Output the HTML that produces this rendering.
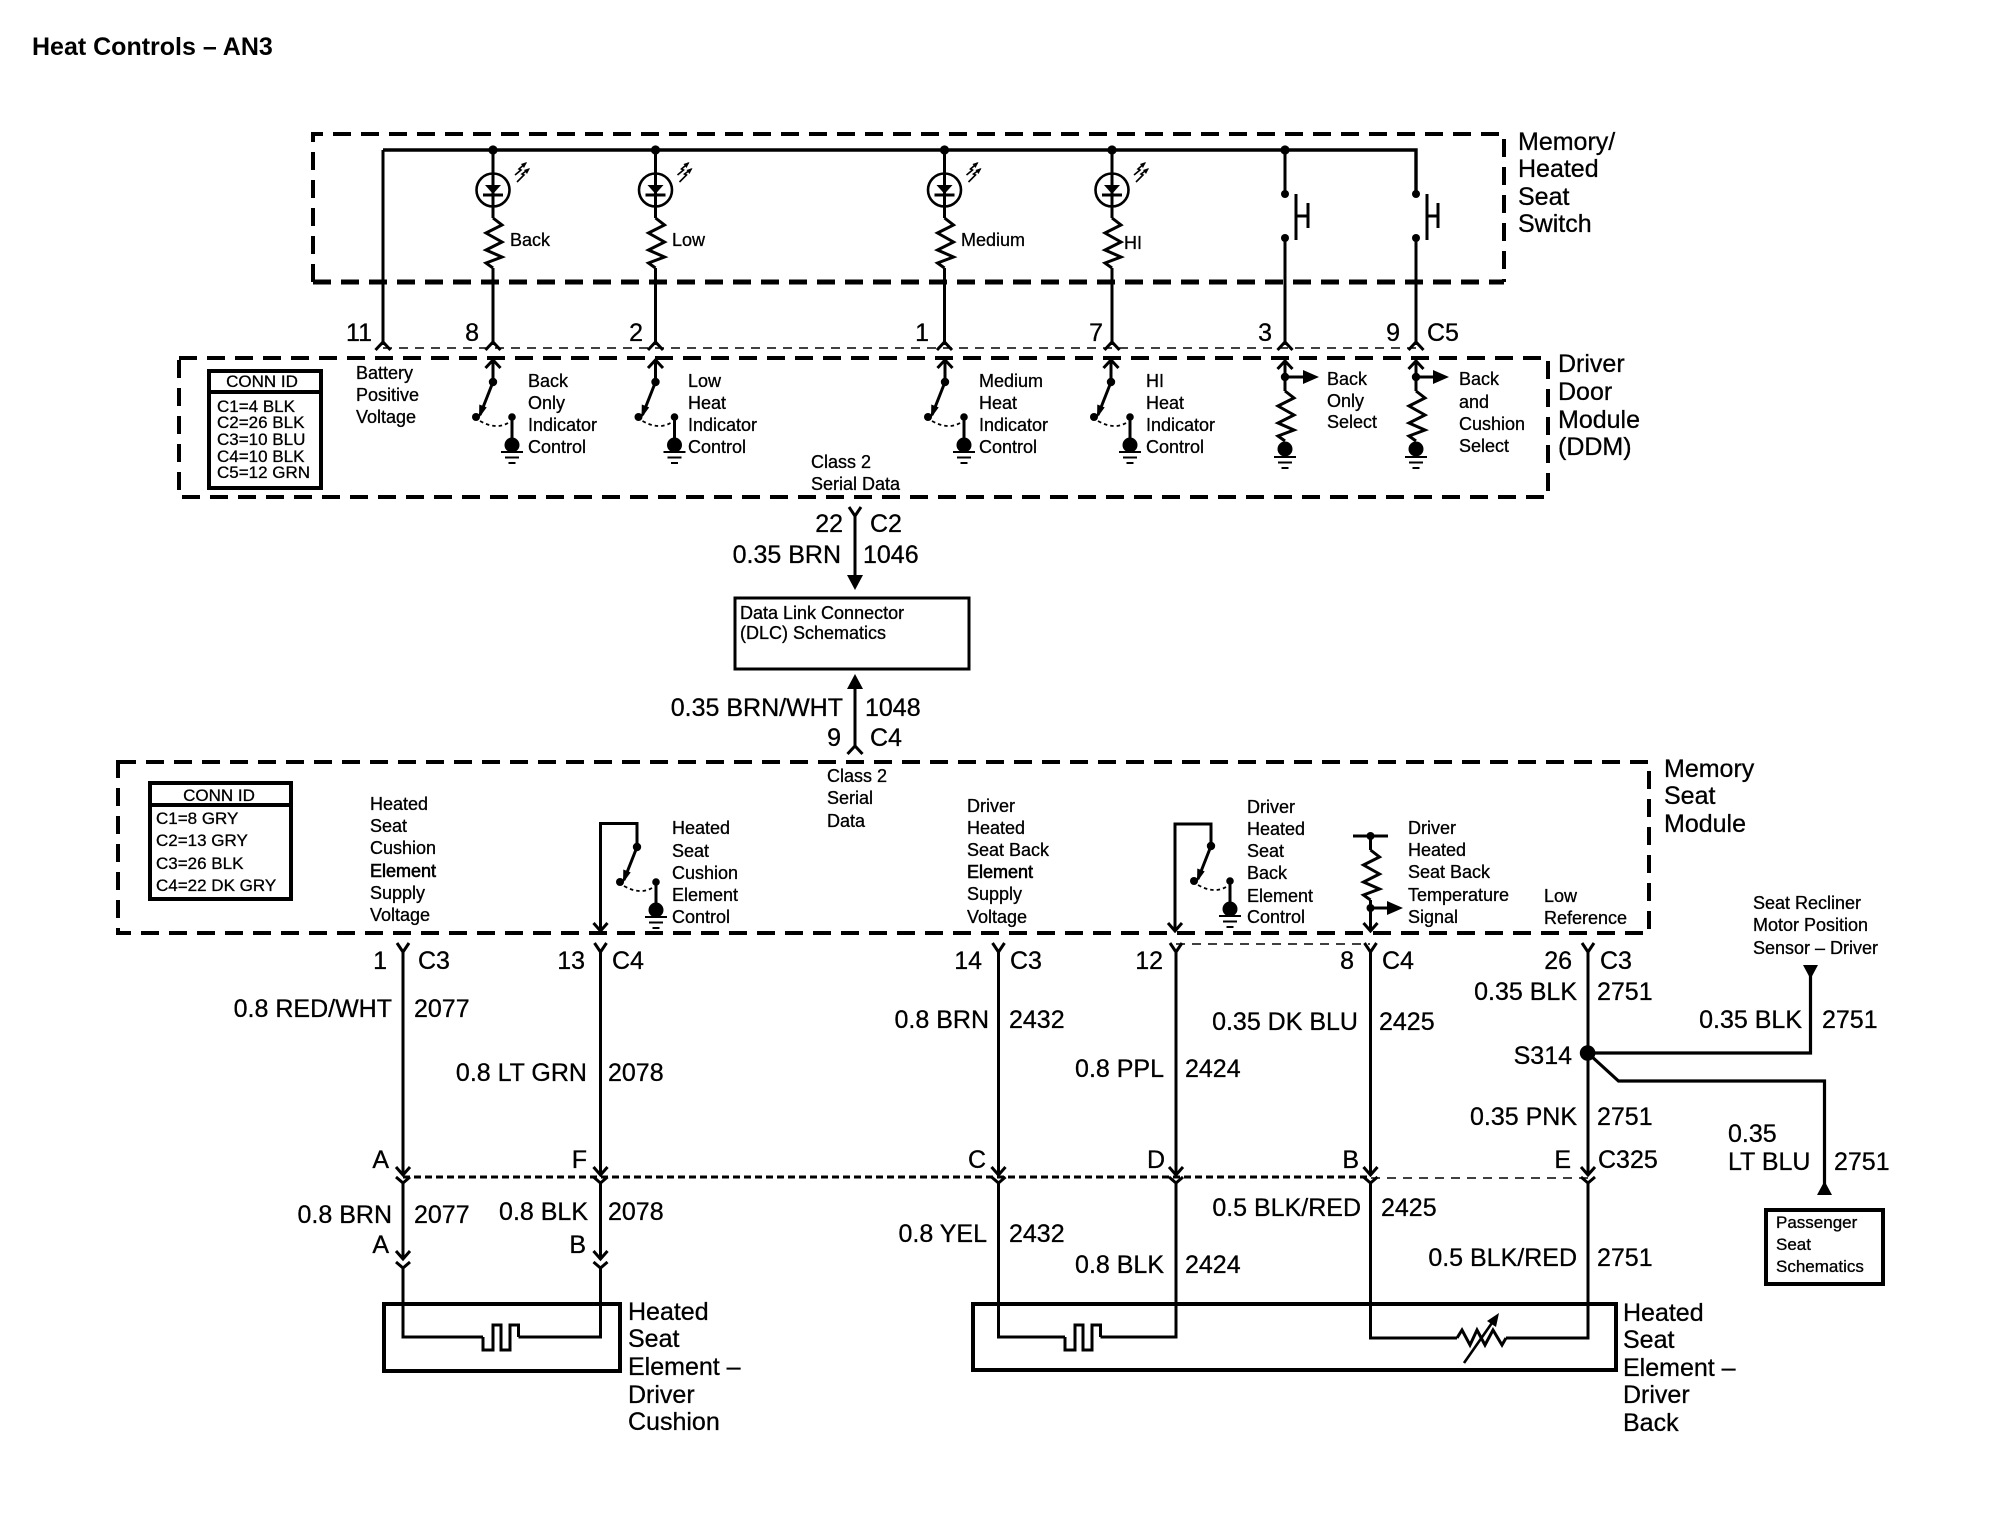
<!DOCTYPE html>
<html><head><meta charset="utf-8"><title>Heat Controls – AN3</title>
<style>
html,body{margin:0;padding:0;background:#fff}
svg{display:block}
text{font-family:"Liberation Sans",Arial,sans-serif;fill:#000;stroke:#000;stroke-width:.3}
text:not(.e){transform:translateX(-1px)}
.s{font-size:18px}.c{font-size:17px}.m{font-size:25px}.t{font-size:25px;font-weight:bold;stroke-width:0}
.e{text-anchor:end}.mid{text-anchor:middle}
.w{fill:none;stroke:#000;stroke-width:3}
.d{fill:none;stroke:#000;stroke-width:4;stroke-dasharray:18 10}
.n{fill:none;stroke:#000;stroke-width:1.6;stroke-dasharray:9 7}
.box{fill:none;stroke:#000;stroke-width:4}
</style></head><body>
<svg width="2010" height="1520" viewBox="0 0 2010 1520" xmlns="http://www.w3.org/2000/svg">
<defs>
<g id="res"><polyline class="w" points="0,0 9,7 -7,15 9,24 -7,32 9,39 -7,45 0,50"/></g>
<g id="gnd"><path d="M-11,0H11M-7,5.5H7M-3.5,11H3.5" stroke="#000" stroke-width="1.9" fill="none"/></g>
<g id="up"><polyline class="w" points="-7.5,8 0,0 7.5,8"/></g>
<g id="dn"><polyline class="w" points="-7,-8 0,0 7,-8"/></g>
<g id="fork"><polyline class="w" points="-6,0 0,9 6,0"/></g>
<g id="fork2"><polyline class="w" points="-7,0 0,6 7,0"/></g>
<g id="sw">
<circle r="4.2" fill="#000"/>
<line class="w" x1="0" y1="0" x2="-13" y2="33"/>
<polygon points="-14,36 -13.7,22.5 -6.3,25.4" fill="#000"/>
<circle cx="-17" cy="35" r="4" fill="#000"/>
<circle cx="19" cy="35" r="3.8" fill="#000"/>
<path d="M-13,39 Q3,48 15,41" fill="none" stroke="#000" stroke-width="1.8" stroke-dasharray="3.5 3"/>
<line class="w" x1="19" y1="35" x2="19" y2="60"/>
<circle cx="19" cy="63" r="7.5" fill="#000"/>
<use href="#gnd" x="19" y="70"/>
</g>
<g id="led">
<circle cx="0" cy="40" r="16.5" fill="#fff" stroke="#000" stroke-width="2.6"/>
<line class="w" x1="0" y1="0" x2="0" y2="68"/>
<polygon points="-8,35 8,35 0,44" fill="#000"/>
<line class="w" x1="-10" y1="45" x2="10" y2="45"/>
<circle cx="0" cy="0" r="4.6" fill="#000"/>
<path d="M22,25 L28,20 L26,19 L33,13 M24,32 L31,25 L29,24 L36,19" fill="none" stroke="#000" stroke-width="1.6"/>
<polygon points="34,12 31,18 28,14 " fill="#000"/><polygon points="37,18 34,24 31,20" fill="#000"/>
<use href="#res" y="68"/>
</g>
<g id="heat"><polyline class="w" points="0,0 0,13 10,13 10,-12 18,-12 18,13 27,13 27,-12 35.5,-12 35.5,0"/></g>
</defs>

<text class="t" x="33" y="55">Heat Controls – AN3</text>

<!-- Switch box -->
<path class="d" d="M313,282V134H1504V282"/>
<path fill="none" stroke="#000" stroke-width="5" d="M313,282h18m10,0h18m10,0h18m10,0h18m10,0h18m10,0h18m10,0h18m10,0h18m10,0h18m10,0h18m10,0h18m10,0h18m10,0h18m10,0h18m10,0h18m10,0h18m10,0h18m10,0h18m10,0h18m10,0h18m10,0h18m10,0h18m10,0h18m10,0h18m10,0h18m10,0h18m10,0h18m10,0h18m10,0h18m10,0h18m10,0h18m10,0h18m10,0h18m10,0h18m10,0h18m10,0h18m10,0h18m10,0h18m10,0h18m10,0h18m10,0h18m10,0h18m10,0h15"/>
<path d="M383,150H1416V194" fill="none" stroke="#000" stroke-width="3.4"/>
<line class="w" x1="383" y1="150" x2="383" y2="345"/>
<use href="#led" x="493" y="150"/><line class="w" x1="493" y1="268" x2="493" y2="345"/>
<use href="#led" x="655.5" y="150"/><line class="w" x1="655.5" y1="268" x2="655.5" y2="345"/>
<use href="#led" x="944.5" y="150"/><line class="w" x1="944.5" y1="268" x2="944.5" y2="345"/>
<use href="#led" x="1112" y="150"/><line class="w" x1="1112" y1="268" x2="1112" y2="345"/>

<text class="s" x="511" y="246">Back</text>
<text class="s" x="673" y="246">Low</text>
<text class="s" x="962" y="246">Medium</text>
<text class="s" x="1125" y="249">HI</text>

<circle cx="1285" cy="150" r="4.6" fill="#000"/>
<path class="w" d="M1285,150V194M1285,238V345M1416,238V345"/>
<circle cx="1285" cy="194" r="4" fill="#000"/><circle cx="1285" cy="238" r="4" fill="#000"/>
<circle cx="1416" cy="194" r="4" fill="#000"/><circle cx="1416" cy="238" r="4" fill="#000"/>
<path class="w" d="M1296,194V240M1296,216H1308M1308,203V228"/>
<path class="w" d="M1427,194V240M1427,216H1438M1438,203V228"/>

<text class="m" x="1519" y="150">Memory/</text>
<text class="m" x="1519" y="177">Heated</text>
<text class="m" x="1519" y="205">Seat</text>
<text class="m" x="1519" y="232">Switch</text>

<!-- pin row -->
<text class="m e" x="372" y="341">11</text>
<text class="m e" x="479" y="341">8</text>
<text class="m e" x="643" y="341">2</text>
<text class="m e" x="929" y="341">1</text>
<text class="m e" x="1103" y="341">7</text>
<text class="m e" x="1272" y="341">3</text>
<text class="m e" x="1400" y="341">9</text>
<text class="m" x="1428" y="341">C5</text>
<line class="n" x1="383" y1="348" x2="1416" y2="348"/>
<use href="#up" x="383" y="342"/><use href="#up" x="493" y="342"/><use href="#up" x="655.5" y="342"/><use href="#up" x="944.5" y="342"/><use href="#up" x="1112" y="342"/><use href="#up" x="1285" y="342"/><use href="#up" x="1416" y="342"/>

<!-- DDM box -->
<rect class="d" x="179" y="358" width="1369" height="139"/>
<rect class="box" x="209" y="371" width="112" height="117"/>
<line class="box" x1="209" y1="392" x2="321" y2="392"/>
<text class="c mid" x="263" y="387">CONN ID</text>
<text class="c" x="218" y="412">C1=4 BLK</text>
<text class="c" x="218" y="428">C2=26 BLK</text>
<text class="c" x="218" y="445">C3=10 BLU</text>
<text class="c" x="218" y="462">C4=10 BLK</text>
<text class="c" x="218" y="478">C5=12 GRN</text>
<text class="s" x="357" y="379">Battery</text>
<text class="s" x="357" y="401">Positive</text>
<text class="s" x="357" y="423">Voltage</text>

<use href="#up" x="493" y="360"/><line class="w" x1="493" y1="360" x2="493" y2="382"/><use href="#sw" x="493" y="382"/>
<use href="#up" x="655.5" y="360"/><line class="w" x1="655.5" y1="360" x2="655.5" y2="382"/><use href="#sw" x="655.5" y="382"/>
<use href="#up" x="945" y="360"/><line class="w" x1="945" y1="360" x2="945" y2="382"/><use href="#sw" x="945" y="382"/>
<use href="#up" x="1111" y="360"/><line class="w" x1="1111" y1="360" x2="1111" y2="382"/><use href="#sw" x="1111" y="382"/>

<text class="s" x="529" y="387">Back</text><text class="s" x="529" y="409">Only</text><text class="s" x="529" y="431">Indicator</text><text class="s" x="529" y="453">Control</text>
<text class="s" x="689" y="387">Low</text><text class="s" x="689" y="409">Heat</text><text class="s" x="689" y="431">Indicator</text><text class="s" x="689" y="453">Control</text>
<text class="s" x="980" y="387">Medium</text><text class="s" x="980" y="409">Heat</text><text class="s" x="980" y="431">Indicator</text><text class="s" x="980" y="453">Control</text>
<text class="s" x="1147" y="387">HI</text><text class="s" x="1147" y="409">Heat</text><text class="s" x="1147" y="431">Indicator</text><text class="s" x="1147" y="453">Control</text>

<!-- select inputs -->
<use href="#up" x="1285" y="361"/><line class="w" x1="1285" y1="361" x2="1285" y2="391"/><circle cx="1285" cy="377" r="4.2" fill="#000"/>
<line class="w" x1="1285" y1="377" x2="1304" y2="377"/><polygon points="1303,370 1319,377 1303,384" fill="#000"/>
<use href="#res" x="1285" y="391"/><circle cx="1285" cy="449" r="7.5" fill="#000"/><use href="#gnd" x="1285" y="457"/>
<text class="s" x="1328" y="385">Back</text><text class="s" x="1328" y="407">Only</text><text class="s" x="1328" y="428">Select</text>

<use href="#up" x="1416" y="361"/><line class="w" x1="1416" y1="361" x2="1416" y2="391"/><circle cx="1416" cy="377" r="4.2" fill="#000"/>
<line class="w" x1="1416" y1="377" x2="1434" y2="377"/><polygon points="1433,370 1449,377 1433,384" fill="#000"/>
<use href="#res" x="1416" y="391"/><circle cx="1416" cy="449" r="7.5" fill="#000"/><use href="#gnd" x="1416" y="457"/>
<text class="s" x="1460" y="385">Back</text><text class="s" x="1460" y="408">and</text><text class="s" x="1460" y="430">Cushion</text><text class="s" x="1460" y="452">Select</text>

<text class="m" x="1559" y="372">Driver</text>
<text class="m" x="1559" y="400">Door</text>
<text class="m" x="1559" y="428">Module</text>
<text class="m" x="1559" y="455">(DDM)</text>

<text class="s" x="812" y="468">Class 2</text>
<text class="s" x="812" y="490">Serial Data</text>

<!-- DLC -->
<use href="#fork" x="855" y="507"/>
<line class="w" x1="855" y1="516" x2="855" y2="578"/>
<polygon points="847,575 863,575 855,590" fill="#000"/>
<text class="m e" x="843" y="532">22</text><text class="m" x="871" y="532">C2</text>
<text class="m e" x="841" y="563">0.35 BRN</text><text class="m" x="864" y="563">1046</text>
<rect x="735" y="598" width="234" height="71" fill="none" stroke="#000" stroke-width="3"/>
<text class="s" x="741" y="619">Data Link Connector</text>
<text class="s" x="741" y="639">(DLC) Schematics</text>
<polygon points="855,674 847,689 863,689" fill="#000"/>
<line class="w" x1="855" y1="686" x2="855" y2="747"/>
<use href="#up" x="855" y="746"/>
<text class="m e" x="843" y="716">0.35 BRN/WHT</text><text class="m" x="866" y="716">1048</text>
<text class="m e" x="841" y="746">9</text><text class="m" x="871" y="746">C4</text>

<!-- MSM -->
<rect class="d" x="118" y="762" width="1531" height="171"/>
<rect class="box" x="150" y="783" width="141" height="116"/>
<line class="box" x1="150" y1="805" x2="291" y2="805"/>
<text class="c mid" x="220" y="801">CONN ID</text>
<text class="c" x="157" y="824">C1=8 GRY</text>
<text class="c" x="157" y="846">C2=13 GRY</text>
<text class="c" x="157" y="869">C3=26 BLK</text>
<text class="c" x="157" y="891">C4=22 DK GRY</text>

<text class="s" x="371" y="810">Heated</text><text class="s" x="371" y="832">Seat</text><text class="s" x="371" y="854">Cushion</text><text class="s" x="371" y="877" style="stroke-width:.6">Element</text><text class="s" x="371" y="899">Supply</text><text class="s" x="371" y="921">Voltage</text>

<path class="w" d="M600.5,931V823.5H637V847"/>
<use href="#dn" x="600.5" y="931"/>
<use href="#sw" x="637" y="847"/>
<text class="s" x="673" y="834">Heated</text><text class="s" x="673" y="857">Seat</text><text class="s" x="673" y="879">Cushion</text><text class="s" x="673" y="901">Element</text><text class="s" x="673" y="923">Control</text>

<text class="s" x="828" y="782">Class 2</text><text class="s" x="828" y="804">Serial</text><text class="s" x="828" y="827">Data</text>

<text class="s" x="968" y="812">Driver</text><text class="s" x="968" y="834">Heated</text><text class="s" x="968" y="856">Seat Back</text><text class="s" x="968" y="878" style="stroke-width:.6">Element</text><text class="s" x="968" y="900">Supply</text><text class="s" x="968" y="923">Voltage</text>

<path class="w" d="M1175,931V824H1211V846"/>
<use href="#dn" x="1175" y="931"/>
<use href="#sw" x="1211" y="846"/>
<text class="s" x="1248" y="813">Driver</text><text class="s" x="1248" y="835">Heated</text><text class="s" x="1248" y="857">Seat</text><text class="s" x="1248" y="879">Back</text><text class="s" x="1248" y="902">Element</text><text class="s" x="1248" y="923">Control</text>

<line class="w" x1="1353" y1="836" x2="1388" y2="836"/><circle cx="1370.5" cy="836" r="4" fill="#000"/>
<line class="w" x1="1370.5" y1="836" x2="1370.5" y2="850"/>
<use href="#res" x="1370.5" y="850"/>
<line class="w" x1="1370.5" y1="900" x2="1370.5" y2="931"/>
<circle cx="1370.5" cy="908" r="4" fill="#000"/>
<line class="w" x1="1370.5" y1="908" x2="1388" y2="908"/><polygon points="1387,901 1403,908 1387,915" fill="#000"/>
<use href="#dn" x="1370.5" y="931"/>
<text class="s" x="1409" y="834">Driver</text><text class="s" x="1409" y="856">Heated</text><text class="s" x="1409" y="878">Seat Back</text><text class="s" x="1409" y="901">Temperature</text><text class="s" x="1409" y="923">Signal</text>
<text class="s" x="1545" y="902">Low</text><text class="s" x="1545" y="924">Reference</text>

<text class="m" x="1665" y="777">Memory</text><text class="m" x="1665" y="804">Seat</text><text class="m" x="1665" y="832">Module</text>

<text class="s" x="1754" y="909">Seat Recliner</text><text class="s" x="1754" y="931">Motor Position</text><text class="s" x="1754" y="954">Sensor – Driver</text>

<!-- forks under MSM -->
<use href="#fork" x="403" y="943"/><use href="#fork" x="600.5" y="943"/><use href="#fork" x="998.5" y="943"/><use href="#fork" x="1176" y="943"/><use href="#fork" x="1370.5" y="943"/><use href="#fork" x="1588" y="943"/>
<line class="n" x1="1176" y1="944" x2="1370" y2="944"/>
<text class="m e" x="387" y="969">1</text><text class="m" x="419" y="969">C3</text>
<text class="m e" x="585" y="969">13</text><text class="m" x="613" y="969">C4</text>
<text class="m e" x="982" y="969">14</text><text class="m" x="1011" y="969">C3</text>
<text class="m e" x="1163" y="969">12</text>
<text class="m e" x="1354" y="969">8</text><text class="m" x="1383" y="969">C4</text>
<text class="m e" x="1572" y="969">26</text><text class="m" x="1601" y="969">C3</text>

<!-- long wires -->
<path class="w" d="M403,952V1175M600.5,952V1175M998.5,952V1175M1176,952V1175M1370.5,952V1175M1588,952V1175"/>
<use href="#dn" x="403" y="1175"/><use href="#dn" x="600.5" y="1175"/><use href="#dn" x="998.5" y="1175"/><use href="#dn" x="1176" y="1175"/><use href="#dn" x="1370.5" y="1175"/><use href="#dn" x="1588" y="1175"/>

<text class="m e" x="392" y="1017">0.8 RED/WHT</text><text class="m" x="415" y="1017">2077</text>
<text class="m e" x="587" y="1081">0.8 LT GRN</text><text class="m" x="609" y="1081">2078</text>
<text class="m e" x="989" y="1028">0.8 BRN</text><text class="m" x="1010" y="1028">2432</text>
<text class="m e" x="1164" y="1077">0.8 PPL</text><text class="m" x="1186" y="1077">2424</text>
<text class="m e" x="1358" y="1030">0.35 DK BLU</text><text class="m" x="1380" y="1030">2425</text>
<text class="m e" x="1577" y="1000">0.35 BLK</text><text class="m" x="1598" y="1000">2751</text>
<text class="m e" x="1572" y="1064">S314</text>
<text class="m e" x="1577" y="1125">0.35 PNK</text><text class="m" x="1598" y="1125">2751</text>

<!-- S314 branches -->
<circle cx="1587.6" cy="1053" r="7.8" fill="#000"/>
<path d="M1588,1053H1810.5V970" fill="none" stroke="#000" stroke-width="3.2"/>
<polygon points="1803,965 1818,965 1810.5,979" fill="#000"/>
<path d="M1590,1055L1618.5,1081H1824.5V1190" fill="none" stroke="#000" stroke-width="3.2"/>
<polygon points="1824.5,1181 1817,1195 1832,1195" fill="#000"/>
<text class="m e" x="1802" y="1028">0.35 BLK</text><text class="m" x="1823" y="1028">2751</text>
<text class="m" x="1729" y="1142">0.35</text>
<text class="m" x="1729" y="1170">LT BLU</text><text class="m" x="1835" y="1170">2751</text>
<rect class="box" x="1766" y="1210" width="117" height="74"/>
<text class="c" x="1777" y="1228">Passenger</text><text class="c" x="1777" y="1250">Seat</text><text class="c" x="1777" y="1272">Schematics</text>

<!-- connector row -->
<line x1="403" y1="1177" x2="1371" y2="1177" stroke="#000" stroke-width="3" stroke-dasharray="7 4"/>
<line class="n" x1="1371" y1="1178" x2="1588" y2="1178"/>
<use href="#fork2" x="403" y="1177"/><use href="#fork2" x="600.5" y="1177"/><use href="#fork2" x="998.5" y="1177"/><use href="#fork2" x="1176" y="1177"/><use href="#fork2" x="1370.5" y="1177"/><use href="#fork2" x="1588" y="1177"/>
<text class="m e" x="389" y="1168">A</text><text class="m e" x="587" y="1168">F</text><text class="m e" x="986" y="1168">C</text><text class="m e" x="1165" y="1168">D</text><text class="m e" x="1359" y="1168">B</text><text class="m e" x="1571" y="1168">E</text><text class="m" x="1599" y="1168">C325</text>

<!-- lower wires -->
<path class="w" d="M403,1183V1258M600.5,1183V1258"/>
<use href="#dn" x="403" y="1259"/><use href="#dn" x="600.5" y="1259"/>
<use href="#fork2" x="403" y="1262"/><use href="#fork2" x="600.5" y="1262"/>
<text class="m e" x="392" y="1223">0.8 BRN</text><text class="m" x="415" y="1223">2077</text>
<text class="m e" x="588" y="1220">0.8 BLK</text><text class="m" x="609" y="1220">2078</text>
<text class="m e" x="389" y="1253">A</text><text class="m e" x="586" y="1253">B</text>

<text class="m e" x="987" y="1242">0.8 YEL</text><text class="m" x="1010" y="1242">2432</text>
<text class="m e" x="1164" y="1273">0.8 BLK</text><text class="m" x="1186" y="1273">2424</text>
<text class="m e" x="1361" y="1216">0.5 BLK/RED</text><text class="m" x="1382" y="1216">2425</text>
<text class="m e" x="1577" y="1266">0.5 BLK/RED</text><text class="m" x="1598" y="1266">2751</text>

<!-- element boxes -->
<rect class="box" x="384" y="1304" width="236" height="67"/>
<path class="w" d="M403,1268V1337H483M518.5,1337H600.5V1268"/>
<use href="#heat" x="483" y="1337"/>
<text class="m" x="629" y="1320">Heated</text><text class="m" x="629" y="1347">Seat</text><text class="m" x="629" y="1375">Element –</text><text class="m" x="629" y="1403">Driver</text><text class="m" x="629" y="1430">Cushion</text>

<rect class="box" x="973" y="1304" width="643" height="66"/>
<path class="w" d="M998.5,1183V1337H1065M1100.5,1337H1176V1183M1370.5,1183V1338H1457M1506,1338H1588V1183"/>
<use href="#heat" x="1065" y="1337"/>
<polyline class="w" points="1457,1338 1462,1330 1470,1345 1477,1330 1485,1345 1493,1330 1502,1345 1506,1338"/>
<line x1="1464" y1="1363" x2="1494" y2="1320" stroke="#000" stroke-width="2.6"/>
<polygon points="1499,1313 1496,1327 1487,1321" fill="#000"/>
<text class="m" x="1624" y="1321">Heated</text><text class="m" x="1624" y="1348">Seat</text><text class="m" x="1624" y="1376">Element –</text><text class="m" x="1624" y="1403">Driver</text><text class="m" x="1624" y="1431">Back</text>
</svg>
</body></html>
